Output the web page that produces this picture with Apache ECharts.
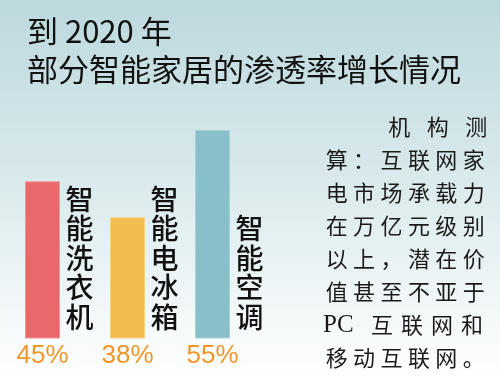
<!DOCTYPE html>
<html>
<head>
<meta charset="utf-8">
<script src="https://cdn.jsdelivr.net/npm/echarts@6/dist/echarts.min.js"></script>
<style>
html,body{margin:0;padding:0;background:#fff;}
#c{width:500px;height:390px;}
</style>
</head>
<body>
<div id="c"></div>
<script>
const categories = ['智能洗衣机', '智能电冰箱', '智能空调'];
const values = [45, 38, 55];
const barColors = ['#E8686B', '#F2BD4E', '#88BFC9'];
const borderColors = ['#F29496', '#F7D283', '#A8D2DA'];
const titleText = '到 2020 年\n部分智能家居的渗透率增长情况';
const noteLines = ['机构测', '算：互联网家', '电市场承载力', '在万亿元级别', '以上，潜在价', '值甚至不亚于', 'PC|互联网和', '移动互联网。'];

const chart = echarts.init(document.getElementById('c'), null, {renderer: 'canvas'});

const noteFont = '"Noto Sans CJK SC", sans-serif';
const noteGraphics = noteLines.map((line, i) => {
  let text;
  if (i === 0) {
    text = line.split('').map(ch => '{w|' + ch + '}').join('');
  } else if (line.indexOf('PC|') === 0) {
    text = '{p|PC}' + line.slice(3).split('').map(ch => '{d|' + ch + '}').join('');
  } else {
    text = line.split('').map(ch => '{c|' + ch + '}').join('');
  }
  const rich = {
    c: {width: 27.4, align: 'center', fontSize: 22, fontFamily: noteFont, fill: '#1a1a1a'},
    d: {width: 30, align: 'center', fontSize: 22, fontFamily: noteFont, fill: '#1a1a1a'},
    w: {width: 38.5, align: 'center', fontSize: 22, fontFamily: noteFont, fill: '#1a1a1a'},
    p: {width: 44, align: 'left', fontSize: 25, fontFamily: '"Liberation Serif", serif', fill: '#1a1a1a'}
  };
  return {
    type: 'text',
    x: i === 0 ? 380 : 323,
    y: 127 + 33 * i,
    style: {
      text: text,
      rich: rich,
      verticalAlign: 'middle',
      align: 'left',
      fill: '#1a1a1a'
    }
  };
});

chart.setOption({
  backgroundColor: {
    type: 'linear', x: 0, y: 0, x2: 0, y2: 1,
    colorStops: [
      {offset: 0, color: '#BCD9DD'},
      {offset: 0.45, color: '#D9E9EC'},
      {offset: 0.97, color: '#FFFFFF'},
      {offset: 1, color: '#FFFFFF'}
    ]
  },
  animation: false,
  title: {
    text: titleText,
    left: 27,
    top: 12,
    padding: 0,
    textStyle: {
      fontFamily: '"Noto Sans CJK SC", sans-serif',
      fontSize: 31,
      fontWeight: 'normal',
      lineHeight: 38,
      color: '#111111'
    }
  },
  grid: {left: -3, right: 245, top: 130, bottom: 52, containLabel: false},
  xAxis: {
    type: 'category',
    data: categories,
    z: 10,
    axisLine: {show: false},
    axisTick: {show: false},
    splitLine: {show: false},
    axisLabel: {
      inside: true,
      margin: 6,
      interval: 0,
      align: 'left',
      verticalAlign: 'bottom',
      padding: [0, 0, 0, 23],
      formatter: v => v.split('').join('\n'),
      fontFamily: '"Noto Sans CJK SC", sans-serif',
      fontSize: 28,
      fontWeight: 500,
      lineHeight: 29.5,
      color: '#111111'
    }
  },
  yAxis: {
    type: 'value',
    min: 14.5,
    max: 55,
    show: false
  },
  series: [{
    type: 'bar',
    barWidth: 35,
    data: values.map((v, i) => ({
      value: v,
      itemStyle: {color: barColors[i], borderColor: borderColors[i], borderWidth: 1}
    })),
    label: {
      show: true,
      position: 'bottom',
      distance: 4,
      formatter: '{c}%',
      fontFamily: '"Liberation Sans", Arial, sans-serif',
      fontSize: 26,
      color: '#F0962A'
    }
  }],
  graphic: noteGraphics
});
</script>
</body>
</html>
